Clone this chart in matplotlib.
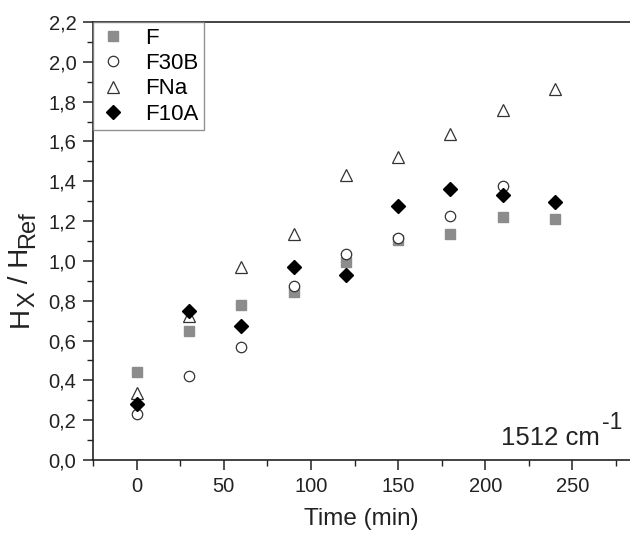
import matplotlib
matplotlib.use("Agg")
import matplotlib.pyplot as plt
from matplotlib.ticker import MultipleLocator, FuncFormatter

plt.rcParams['font.family'] = ['Liberation Sans', 'DejaVu Sans']

time = [0, 30, 60, 90, 120, 150, 180, 210, 240]
F = [0.44, 0.648, 0.779, 0.843, 0.997, 1.105, 1.136, 1.22, 1.208]
F30B_time = [0, 30, 60, 90, 120, 150, 180, 210]
F30B = [0.229, 0.422, 0.568, 0.874, 1.035, 1.117, 1.228, 1.374]
FNa = [0.335, 0.725, 0.971, 1.134, 1.432, 1.521, 1.635, 1.759, 1.863]
F10A = [0.28, 0.75, 0.673, 0.968, 0.93, 1.278, 1.36, 1.332, 1.296]

W, H = 630, 534
fig = plt.figure(figsize=(W / 100, H / 100), dpi=100)
ax = fig.add_axes([93 / W, 1 - 460 / H, 1 - 93 / W, (460 - 22) / H])

ax.plot(time, F, linestyle='none', marker='s', ms=6.5, color='#8c8c8c', mec='#8c8c8c', label='F')
ax.plot(F30B_time, F30B, linestyle='none', marker='o', ms=7.5, mfc='white', mec='#333333', mew=0.9, label='F30B')
ax.plot(time, FNa, linestyle='none', marker='^', ms=8.5, mfc='white', mec='#333333', mew=0.9, label='FNa')
ax.plot(time, F10A, linestyle='none', marker='D', ms=7, color='black', label='F10A')

ax.set_xlim(-25, 283)
ax.set_ylim(0, 2.2)
ax.xaxis.set_major_locator(MultipleLocator(50))
ax.xaxis.set_minor_locator(MultipleLocator(25))
ax.yaxis.set_major_locator(MultipleLocator(0.2))
ax.yaxis.set_minor_locator(MultipleLocator(0.1))
ax.yaxis.set_major_formatter(FuncFormatter(lambda v, p: f"{v:.1f}".replace('.', ',')))
ax.tick_params(which='both', direction='out', top=False, right=False, labelsize=14.5, colors='#222222')
ax.tick_params(which='major', length=7, width=1.1, pad=5)
ax.tick_params(which='minor', length=4, width=1.0)
ax.spines['right'].set_visible(False)
for s in ['left', 'bottom', 'top']:
    ax.spines[s].set_linewidth(1.2)
    ax.spines[s].set_color('#222222')

ax.set_xlabel('Time (min)', fontsize=17.5, color='#222222', labelpad=9)

# y label built from pieces so the subscripts stay nearly full size
fig.canvas.draw()
renderer = fig.canvas.get_renderer()
pieces = [('H', 20, 28), ('X', 17, 34), (' / H', 20, 28), ('Ref', 17, 34)]
y_disp = H - 327
for s, size, xb in pieces:
    t = fig.text(xb / W, y_disp / H, s, rotation=90, rotation_mode='anchor',
                 ha='left', va='baseline', fontsize=size, color='#222222')
    ext = t.get_window_extent(renderer)
    y_disp = ext.y1

# wavenumber annotation with plain-hyphen superscript
fig.text(600 / W, (H - 445) / H, '1512 cm', ha='right', va='baseline', fontsize=18.5, color='#222222')
fig.text(602 / W, (H - 429) / H, '-1', ha='left', va='baseline', fontsize=16.5, color='#222222')

leg = ax.legend(loc='upper left', fontsize=16, frameon=True, fancybox=False, borderpad=0.25,
                handletextpad=0.8, labelspacing=0.2, borderaxespad=0, handlelength=1.3)
leg.get_frame().set_edgecolor('#777777')
leg.get_frame().set_linewidth(1.0)

fig.savefig('out.png', dpi=100)
